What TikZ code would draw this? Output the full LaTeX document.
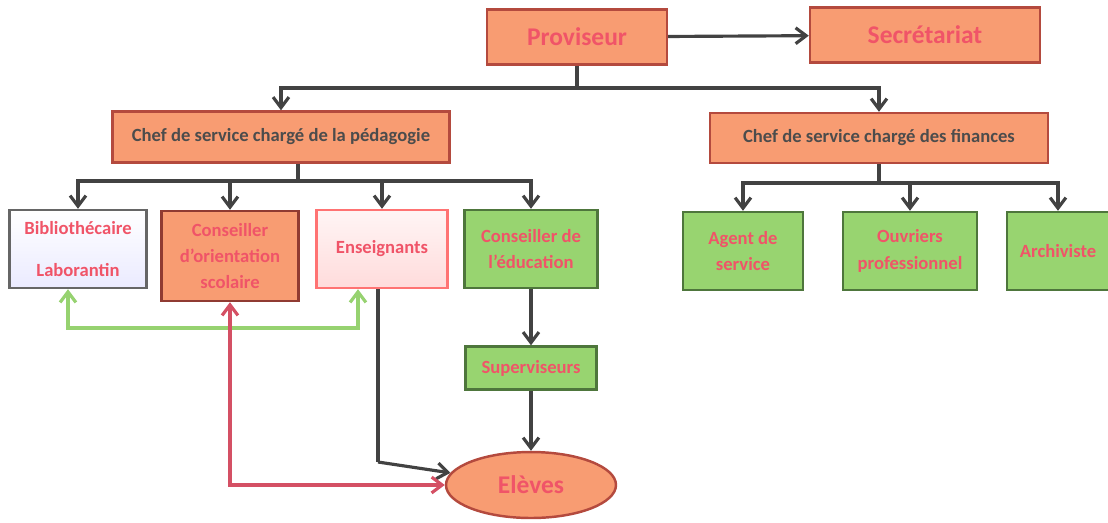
\documentclass[tikz,border=0pt]{standalone}
\usepackage{fontspec}
\setmainfont{Carlito}
\usetikzlibrary{arrows.meta,shapes.geometric}
\definecolor{orgfill}{RGB}{248,156,114}
\definecolor{orgdraw}{RGB}{180,74,62}
\definecolor{grnfill}{RGB}{152,212,112}
\definecolor{grndraw}{RGB}{78,118,60}
\definecolor{lbltxt}{RGB}{240,84,104}
\definecolor{linkgray}{RGB}{66,66,66}
\definecolor{linkgreen}{RGB}{150,210,112}
\definecolor{linkred}{RGB}{212,80,100}
\tikzset{
  box/.style={rectangle,draw,line width=1.4pt,align=center,inner sep=2pt,
    font=\bfseries\fontsize{10.6}{15}\selectfont,text=lbltxt},
  orgbox/.style={box,fill=orgfill,draw=orgdraw},
  grnbox/.style={box,fill=grnfill,draw=grndraw},
  bigtext/.style={font=\bfseries\fontsize{14.5}{17}\selectfont},
  elbow/.style={to path={-| (\tikztotarget)}},
}
\begin{document}
\begin{tikzpicture}[x=0.02cm,y=-0.02cm]
  \useasboundingbox (0,0) rectangle (1108,522);
  \begin{scope}[every node/.style={}]
    \node[orgbox,bigtext,minimum width=3.6cm,minimum height=1.1cm] (prov) at (577,37) {Proviseur};
    \node[orgbox,bigtext,minimum width=4.6cm,minimum height=1.1cm] (secr) at (925,35) {Secrétariat};
    \node[orgbox,text=black!70,minimum width=6.74cm,minimum height=1.02cm] (ped) at (281,137) {Chef de service chargé de la pédagogie};
    \node[orgbox,text=black!70,minimum width=6.76cm,minimum height=1cm] (fin) at (879,138) {Chef de service chargé des finances};
    \node[box,draw=black!60,top color=white,bottom color=blue!8,minimum width=2.74cm,minimum height=1.56cm] (bib) at (78,249) {Bibliothécaire\\[9pt]Laborantin};
    \node[orgbox,draw=orgdraw!80!black,minimum width=2.74cm,minimum height=1.8cm] (orient) at (230,256) {Conseiller\\d’orientation\\scolaire};
    \node[box,draw=red!55,top color=red!4,bottom color=red!14,minimum width=2.62cm,minimum height=1.56cm] (ens) at (382,249) {Enseignants};
    \node[grnbox,minimum width=2.66cm,minimum height=1.56cm] (educ) at (531,249) {Conseiller de\\l’éducation};
    \node[grnbox,minimum width=2.4cm,minimum height=1.56cm] (agent) at (743,251) {Agent de\\service};
    \node[grnbox,minimum width=2.68cm,minimum height=1.56cm] (ouvr) at (910,251) {Ouvriers\\professionnel};
    \node[grnbox,minimum width=2.04cm,minimum height=1.56cm] (arch) at (1058,251) {Archiviste};
    \node[grnbox,minimum width=2.62cm,minimum height=0.86cm] (sup) at (531,368) {Superviseurs};
    \node[ellipse,draw=orgdraw,fill=orgfill,line width=1.4pt,bigtext,text=lbltxt,minimum width=3.4cm,minimum height=1.32cm] (elev) at (531,485) {Elèves};
  \end{scope}
  \coordinate (pj) at (577,88);
  \coordinate (pedj) at (298,181);
  \coordinate (finj) at (879,183);
  \coordinate (ensk) at (378,462);
  \coordinate (gl) at (68,328);
  \coordinate (gr) at (358,328);
  \begin{scope}[every edge/.style={draw=linkgray,line width=1.8pt},>={Straight Barb[length=6pt,width=9pt]}]
    \path (prov) edge[->] (secr);
    \path (prov) edge (pj);
    \path (pj) edge[->,elbow] (ped);
    \path (pj) edge[->,elbow] (fin);
    \path (ped.south -| pedj) edge (pedj);
    \path (pedj) edge[->,elbow] (bib);
    \path (pedj) edge[->,elbow] (orient);
    \path (pedj) edge[->,elbow] (ens);
    \path (pedj) edge[->,elbow] (educ);
    \path (fin) edge (finj);
    \path (finj) edge[->,elbow] (agent);
    \path (finj) edge[->,elbow] (ouvr);
    \path (finj) edge[->,elbow] (arch);
    \path (educ) edge[->] (sup);
    \path (sup) edge[->] (elev);
    \path (ens.south -| ensk) edge (ensk);
    \path (ensk) edge[->] (elev);
    \draw[linkgreen,line width=1.8pt,<->] (bib.south -| gl) -- (gl) -- (gr) -- (ens.south -| gr);
    \draw[linkred,line width=1.8pt,<->] (orient) |- (elev);
  \end{scope}
\end{tikzpicture}
\end{document}
